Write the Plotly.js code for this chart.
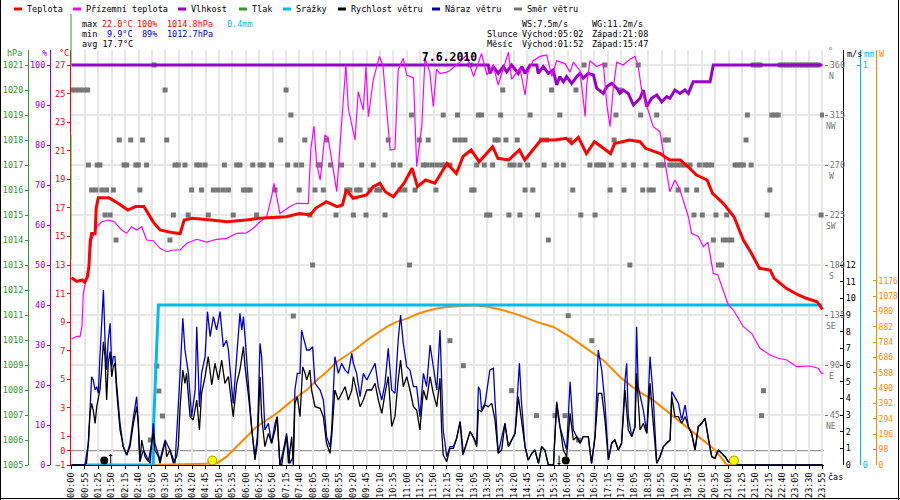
<!DOCTYPE html>
<html><head><meta charset="utf-8">
<script src="https://cdn.plot.ly/plotly-3.0.1.min.js"></script>
<style>html,body{margin:0;padding:0;background:#fff}#chart{width:900px;height:500px}</style>
</head><body><div id="chart"></div>
<script>
// ---- tick labels (one label every 5 samples) ----
const timeLabels = ["00:00","00:55","01:25","01:50","02:15","02:40","03:05","03:30","03:55","04:20","04:45","05:10","05:35","06:00","06:25","06:50","07:15","07:40","08:05","08:30","08:55","09:20","09:45","10:10","10:35","11:00","11:25","11:50","12:15","12:40","13:05","13:30","13:55","14:20","14:45","15:10","15:35","16:00","16:25","16:50","17:15","17:40","18:05","18:30","18:55","19:20","19:45","20:10","20:35","21:00","21:25","21:50","22:15","22:40","23:05","23:30","23:55"];

// ---- series: [sample index, value] ----
const tempPts = [[0,12.1],[2,11.85],[4,11.95],[5,11.8],[6,12.2],[6.5,12.9],[7,14.7],[7.5,15.2],[8.8,15.2],[9.2,17.0],[10,17.7],[14,17.7],[17.5,17.3],[21,16.85],[24,17.1],[27,17.1],[30.5,16.0],[33,15.45],[38,15.25],[40.5,15.2],[42,16.15],[45,16.27],[52,16.15],[58,16.03],[65,16.15],[70,16.27],[80,16.38],[85,16.6],[89,16.5],[91,16.97],[95,17.43],[99,17.08],[101,17.2],[102.5,18.25],[105,17.67],[110,17.9],[112.5,18.48],[115,18.72],[117,18.13],[120,17.78],[124,18.72],[127,19.77],[129,18.48],[132,18.95],[135.5,18.72],[137.5,19.3],[140,20.1],[143.5,19.4],[146,20.6],[149,21.05],[152,20.23],[157,21.28],[159,20.47],[163,20.35],[167,21.05],[169,20.35],[175,21.75],[180,21.75],[184.5,21.87],[186.5,21.5],[189,21.94],[192,20.8],[195,21.63],[201,20.8],[202.5,21.5],[208,21.75],[212,21.63],[214,21.17],[219.5,20.8],[223,20.35],[227,20.35],[230.5,19.77],[233,19.3],[237,18.95],[239,18.02],[243,17.32],[247,16.38],[250.5,14.75],[253.5,13.82],[256.5,12.77],[260.5,12.65],[262,12.07],[266.5,11.37],[271,10.9],[274,10.67],[278,10.43],[280,9.9]];

const feelPts = [[0,7.82],[1.9,8.0],[3.2,8.0],[3.9,8.7],[4.4,11.0],[5.7,12.4],[6.3,12.9],[7.5,14.75],[9.4,15.68],[11.3,16.03],[13.7,16.15],[15.8,16.05],[18.7,15.45],[20.6,15.22],[22.4,15.68],[24.3,15.45],[26.2,15.68],[28,14.75],[30.5,14.7],[33,14.17],[35.5,13.93],[38,14.05],[40.5,14.05],[43,14.52],[46.7,14.8],[50.4,14.6],[54.1,14.8],[57.9,14.87],[61.6,15.22],[65.3,15.25],[67.8,15.57],[70.3,16.03],[72.8,16.38],[74.6,17.78],[75.5,18.72],[76.5,17.78],[77.7,16.6],[81.5,17.1],[84,17.32],[88.3,17.3],[89.2,21.05],[90.4,22.73],[91.4,20.12],[92.7,18.95],[94.5,22.1],[95.7,21.9],[97,20.35],[98.9,18.13],[100.7,22.9],[102.3,27.0],[103.2,23.97],[105.7,21.75],[106.9,25.13],[108.8,23.85],[109.8,26.9],[110.7,23.38],[112.5,25.95],[114.8,27.6],[116.1,27.0],[117.5,24.08],[118.8,21.05],[120.6,21.1],[121.8,26.65],[123.7,27.47],[125,26.3],[127.5,26.1],[128.7,19.9],[130.6,22.7],[131.8,27.47],[133.6,26.5],[134.9,24.1],[136.1,26.7],[137.4,26.4],[139.9,26.5],[141,26.6],[144.2,27.1],[147.3,27.7],[149.9,26.2],[152.9,27.8],[154.9,26.3],[157.2,27.0],[159.1,25.6],[162.9,27.9],[164.1,26.0],[167.2,26.8],[169.1,24.9],[170.2,26.5],[172.1,27.3],[174.7,27.6],[177.2,27.7],[179.1,26.2],[180.9,27.3],[184,27.1],[185.9,26.5],[187.1,27.2],[189.6,26.6],[191.5,23.4],[192.1,25.6],[193.3,27.3],[195.8,26.9],[198.3,27.1],[199.6,24.2],[200.8,22.7],[202,25.4],[203.3,27.2],[205.7,27.0],[208.2,27.4],[210.1,27.6],[211.3,26.9],[212.6,25.25],[214.5,24.08],[216.9,22.68],[219.4,22.33],[221.3,20.12],[223.1,18.13],[225,18.95],[226.9,18.25],[230,16.38],[231.2,15.22],[233.7,15.0],[235.6,14.28],[237.3,14.6],[239.3,12.42],[241,12.3],[243,11.25],[244.9,10.2],[246.8,9.85],[250.5,8.68],[253.6,8.22],[256.7,7.17],[260.5,6.7],[263.5,6.47],[266.7,6.35],[270.4,5.88],[275.3,5.93],[278.4,5.77],[279.7,5.42],[280.3,5.42]];

const humPts = [[0,100],[137.4,100],[155.4,100],[156,97.9],[157.3,99.6],[159.1,97.9],[161,99.6],[162.3,98.3],[164.1,100],[166.6,97.9],[167.9,99.6],[169.1,97.9],[171,100],[173.5,100],[174,97.9],[175.9,99.6],[177.8,97.9],[179.6,98.75],[180.9,95],[182.1,97.1],[183.4,95.8],[184.6,97.1],[186.5,95.4],[188.4,97.1],[189.6,97.9],[190.8,96.7],[192.7,97.9],[194.6,97.5],[195.8,94.2],[198.3,92.9],[199.6,94.6],[201.4,95.4],[203.3,94.2],[204.5,92.9],[205.7,93.75],[207.6,92.9],[209.5,90],[210.7,90.8],[212,91.7],[213.2,93.75],[214.5,89.6],[216.3,91.7],[218.2,92.5],[220.1,90.8],[221.9,92.1],[223.1,91.7],[225,93.75],[226.9,92.9],[228.7,93.75],[230,92.9],[231.8,95.8],[238.1,95.8],[239.3,100],[280,100]];

const windPts = [[0,0],[5,0],[5.6,0.1],[6.3,1.4],[6.9,3.1],[7.5,3.7],[8.1,3.3],[8.8,2.5],[9.4,3.5],[10.6,4.5],[11.3,5.9],[11.9,7.4],[12.5,6.5],[13.1,3.9],[13.7,6.1],[14.4,6.8],[15,5.3],[15.6,5.9],[16.2,6.1],[16.8,4.5],[18.1,2.1],[19.3,1.1],[20.6,0.6],[21.8,1.1],[23.1,2.5],[24.3,3.5],[24.9,2.5],[25.5,0.2],[26.2,1.5],[27.4,0.5],[28.7,0.2],[29.9,1.5],[30.5,1.9],[31.1,0.9],[32.4,0.5],[33,0.1],[33.6,0.5],[34.9,1.4],[35.5,0.5],[36.7,0.9],[38,0.1],[39.2,0.5],[39.8,1.1],[40.5,3.5],[41.5,5.7],[42.3,4.9],[42.9,5.5],[44.2,2.9],[45.4,2.7],[46.7,3.9],[47.7,2.1],[48.5,4.3],[49.8,5.3],[51,6.5],[52.3,4.8],[53.5,6.1],[54.8,5.1],[56,6.3],[57.2,4.9],[58.5,5.3],[59.7,3.7],[60.3,2.9],[61.6,4.9],[62.8,5.7],[64.1,7.1],[64.7,5.9],[65.9,4.3],[67.2,2.1],[68.4,0.3],[69.3,1.3],[70.3,5.3],[70.9,2.9],[72.1,1.1],[73.4,1.9],[74.6,1.3],[75.9,2.1],[76.7,2.9],[77.7,0],[78.4,0],[79,0.7],[80.2,1.7],[80.9,0.1],[82.1,1.7],[82.7,0],[83.3,3.7],[84.2,4.1],[85.2,2.9],[86.2,5.9],[87.1,5.5],[87.7,5.1],[88.9,5.7],[89.5,4.5],[90.8,3.5],[92.7,3.4],[93.9,2.9],[95.1,1.3],[96.4,0.7],[97,1.7],[98.2,4.5],[99.5,3.9],[100.7,4.3],[102,4.7],[103.2,3.9],[104.5,4.5],[105.1,5.3],[106.3,4.5],[107.6,3.5],[108.8,3.9],[110.1,4.5],[111.9,4.5],[113.2,4.9],[114.4,3.9],[115.7,3.1],[116.9,4.3],[118.1,5.3],[119.4,2.3],[120.6,2.9],[121.8,5.1],[122.7,6.3],[123.7,4.7],[125,5.3],[126.2,4.5],[127.5,3.5],[128.7,3.3],[129.9,2.1],[131.2,4.5],[132.4,3.9],[133.7,5.3],[134.9,4.3],[136.2,3.5],[137.4,5.2],[138,2.1],[138.6,0.6],[139.9,0.2],[141.1,1.0],[142.4,1.0],[143.6,1.6],[144.9,2.6],[145.9,0.6],[147.3,1.3],[148.6,2.0],[149.8,1.7],[151.1,1.1],[151.7,3.3],[152.9,3.2],[154.2,3.6],[155.4,3.5],[156.7,3.7],[157.9,2.7],[159.1,0.7],[160.4,0.9],[161.6,2.5],[162.9,1.1],[164.1,1.5],[165.4,1.9],[166.6,4.1],[167.8,2.5],[169.1,1.1],[170.3,0.3],[171.6,0.7],[172.8,0.9],[174.1,0.1],[175.3,1.1],[176.5,0.9],[177.8,0],[179.7,0],[180.9,3.7],[182.1,2.3],[183.4,0.9],[184.6,0.5],[185.9,3.1],[187.1,1.5],[188.4,1.7],[189.6,1.3],[190.8,1.7],[192.7,1.7],[193.9,0.1],[195.2,1.7],[196.4,4.3],[197.7,4.3],[198.9,2.7],[200.2,0.3],[201.4,1.3],[202.6,1.5],[203.9,0.9],[205.1,1.3],[206.4,4.5],[207.6,2.1],[208.9,1.7],[210.1,2.3],[210.7,5.5],[212,2.1],[213.2,2.5],[214.5,1.9],[215.7,4.9],[216.9,2.5],[218.2,0.1],[219.4,0.5],[220.7,1.1],[221.9,1.3],[223.2,1.5],[223.8,4.1],[225,2.9],[226.3,2.9],[227.5,2.5],[228.8,2.9],[230,2.3],[231.2,1.9],[232.5,0.9],[233.7,2.3],[235,2.5],[236.2,2.8],[237.5,1.5],[238.7,0.5],[239.9,0.4],[241.2,0.9],[242.4,0.7],[243.7,0.5],[244.9,0.2],[246.8,0.1],[248.6,0],[280,0]];

const gustPts = [[0,0],[5,0],[6.3,1.3],[6.9,3.9],[7.5,5.3],[8.1,5.1],[8.8,4.5],[9.4,4.7],[10,4.3],[10.6,6.5],[11.3,8.5],[11.9,10.5],[12.5,7.5],[13.1,5.7],[13.7,7.5],[14.4,8.5],[15,5.9],[15.6,6.5],[16.2,6.5],[16.8,4.9],[18.1,2.5],[19.3,1.1],[20.6,0.6],[21.8,1.3],[23.1,2.9],[24.3,4.1],[24.9,2.5],[25.5,0.2],[26.8,0.9],[29.3,0.1],[30.5,2.5],[31.1,1.3],[33,0.3],[34.9,1.5],[36.7,0.9],[38.6,0.1],[40.5,5.5],[41.5,8.8],[42.3,6.9],[43.6,5.5],[44.8,2.9],[46.1,4.5],[46.7,8.3],[47.7,3.5],[48.5,5.5],[49.8,6.5],[50.7,9.2],[51.7,7.7],[52.9,8.9],[54.1,8.1],[55.4,9.2],[56.6,7.1],[57.8,7.5],[58.5,6.9],[59.7,4.7],[60.3,3.7],[61.6,6.5],[62.8,9.1],[63.5,8.1],[64.1,8.9],[64.7,7.7],[65.9,5.1],[67.2,2.1],[68.4,0.5],[69.3,1.7],[70.3,7.3],[70.9,6.5],[72.1,2.1],[73.4,2.5],[74.6,1.3],[75.9,2.5],[76.7,2.9],[77.7,0],[79,0.9],[80.2,1.9],[81.4,0.1],[82.7,0.5],[83.3,4.5],[84.2,5.5],[85.2,5.5],[85.8,8.1],[86.4,7.7],[87.7,6.9],[88.9,6.9],[89.9,7.1],[90.8,4.9],[92.7,4.5],[93.9,3.9],[95.1,1.7],[96.4,1.1],[97,2.1],[98.2,6.5],[99.5,5.5],[100.7,6.1],[102,5.7],[103.2,5.5],[104.5,6.7],[105.1,6.1],[106.3,5.5],[107.6,4.1],[108.8,5.5],[110.1,5.1],[111.9,5.7],[113.2,6.1],[114.4,4.7],[115.7,3.9],[116.9,4.9],[118.1,7.0],[119.4,4.5],[120.6,4.3],[121.8,7.5],[122.7,9.0],[123.7,7.3],[125,5.9],[126.2,5.7],[127.5,4.7],[128.7,4.7],[129.9,2.9],[131.2,5.5],[132.4,4.7],[133.7,7.2],[134.9,5.9],[136.2,4.5],[137.4,8.1],[138,4.9],[138.6,2.1],[139.9,0.5],[141.1,1.1],[142.4,1.1],[143.6,1.6],[144.9,2.6],[146.1,0.7],[148.6,2.0],[151.1,1.3],[151.7,4.7],[152.3,4.5],[152.9,3.3],[154.2,3.7],[156,5.7],[157.3,5.8],[157.9,3.9],[159.1,0.7],[161.6,2.5],[162.9,1.1],[165.4,1.9],[167,6.1],[167.8,3.7],[169.1,1.1],[170.3,0.3],[171.6,0.7],[172.8,0.9],[174.1,0.1],[175.3,1.1],[176.5,0.9],[177.8,0],[179.7,0],[180.9,3.8],[182.1,2.3],[184.6,0.9],[185.9,5.0],[187.1,2.1],[188.4,1.7],[189.6,1.3],[190.8,1.7],[192.7,1.7],[193.9,0.1],[195.2,1.7],[196.4,6.9],[197.7,5.7],[198.9,3.7],[200.2,0.3],[201.4,1.3],[202.6,1.5],[203.9,0.9],[205.1,1.3],[206.4,5.1],[207,6.1],[207.6,2.9],[208.9,1.7],[210.1,2.3],[210.7,8.3],[211.3,4.7],[213.2,3.3],[214.5,1.9],[215.7,6.5],[216.9,4.1],[218.2,0.1],[219.4,0.5],[220.7,1.1],[221.9,1.3],[223.2,1.5],[223.8,4.4],[225,4.1],[226.3,3.7],[227.5,2.7],[228.8,3.6],[230,2.3],[231.2,1.9],[232.5,0.9],[233.7,2.3],[235,2.5],[236.2,2.8],[237.5,1.5],[238.7,0.5],[239.9,0.4],[241.2,0.9],[242.4,0.7],[243.7,0.5],[244.9,0.2],[246.8,0.1],[248.6,0],[280,0]];

const precPts = [[5.7,0],[30.5,0],[30.6,0.1],[31.5,0.25],[32.4,0.4],[280,0.4]];

const solarPts = [[29.3,0],[54.1,10],[57.8,53],[61.6,117],[65.3,180],[69,244],[72.8,287],[76.5,329],[80.2,382],[84,435],[87.7,478],[91.4,541],[95.1,594],[98.9,658],[102.6,700],[106.3,743],[110.1,796],[113.8,839],[117.5,881],[121.2,913],[125,934],[128.7,962],[132.4,983],[136.2,998],[139.9,1008],[144.9,1015],[149.8,1019],[155.4,1010],[161,987],[167.2,955],[173.4,913],[179.7,881],[185.9,817],[192.1,743],[198.3,669],[204.5,562],[210.7,478],[216.9,414],[223.2,329],[229.4,244],[235.6,159],[239.3,106],[243,32],[244.3,0],[246,0]];

// wind direction (sample indices per direction row, degrees)
const dirN   = [30.8,148.6,191.1,198.9,211.3,254.2,255.5,256.7,264.2,265.4,266.6,267.8,269,270.2,271.4,272.6,273.8,275,276.2,277.4,278.4];
const dirNNW = [0,1.5,3,4.5,6,34.9,80,160.8,179,188.1,204.5];
const dirNW  = [81.8,126.8,138.6,143.9,151.7,152.9,160,171,182.1,203,212.2,218.2,252,261.1,262.3,263.5,280];
const dirWNW = [17.8,22.1,26.5,35.5,78,87,95.1,118.1,129.7,133,143,144.9,146.7,157.9,159.1,162,166.2,175.3,177.2,185.9,202.3,221.3,222.5,251.5];
const dirW   = [6.3,9.6,10.6,19.6,20.6,24,24.9,28,38.6,39.8,42.3,46.7,47.9,49.8,57,61.6,62.8,67.6,70.3,71.5,74.6,80.6,83.7,85.8,92,92.7,96.6,100.7,108.2,112.5,120,122.5,131.2,132.4,134.3,136.2,138,139.3,141.1,151.1,153.9,157,163.5,165,167.2,170.1,176.2,180.9,183.4,193.3,195.8,197,198.3,201.2,206,209.5,214.2,218.8,219.8,220.7,223.1,224.5,226,227.4,228.7,230.6,234.1,236.2,237.4,238.7,247.4,248.4,249.5,250.5,253.4];
const dirWSW = [7.5,9.1,11.3,13.1,15.6,25.5,44.8,48.5,52.9,54.7,56.6,58.5,64.1,65.3,66.6,75.9,84.9,90.8,93.9,102.6,103.8,106.3,107.6,111.3,113.8,115,122.5,124.3,128.1,135.9,149.2,150.1,169.1,172,186.9,200.8,206,213,215.4,216.9,226.2,229.4,233.1,260.4];
const dirSW  = [12.5,14.4,38,43.5,51,60.3,69,88.9,98.6,105.1,109.8,116.9,154.8,156,163.1,167.2,173.8,189.9,195.2,232.1,235.2,240.3,244.3,259.4,279.5];
const dirSSW = [16.6,36.7,177.8,239.3,243,244.6,246.2];
const dirS   = [89.9,126,208.2,241.2,242.4];
const dirOtherIdx = [82.7,141.1,31.8,32.6,33.9,29.4,146.1,185.2,194,164.1,173.4,180.3,184,189,258,257.3];
const dirOtherDeg = [134.1,111.9,89.1,66.6,44.1,22.5,89.4,134.4,111.9,66.9,44.4,44.4,44.4,22.5,66.9,44.4];

// sun / moon events (sample index)
const sunIdx = [52.5, 247];
const moonIdx = [12.2, 184.3];

// axis tick values
const tempTicks = [-1,0,1,3,5,7,9,11,13,15,17,19,21,23,25,27];
const humTicks = [0,10,20,30,40,50,60,70,80,90,100];
const presTicks = [1005,1006,1007,1008,1009,1010,1011,1012,1013,1014,1015,1016,1017,1018,1019,1020,1021];
const dirTicks = [45,90,135,180,225,270,315,360];
const dirNames = ["NE","E","SE","S","SW","W","NW","N"];
const windTicks = [0,1,2,3,4,5,6,7,8,9,10,11,12];
const rainTicks = [0,1];
const solarTicks = [0,98,196,294,392,490,588,686,784,882,980,1078,1176];

// ---- styling ----
const FONT = '"DejaVu Sans Mono", monospace';
const FS = 8.5;
const C = {red:'#ff0000', mag:'#ff00ff', pur:'#9900cc', grn:'#339933', cyan:'#00bbee', blk:'#000000', blue:'#0000cc', grey:'#777777', org:'#ff8800'};
const K = 2.682; // px per sample
const px = x => x/900;
const py = y => (465-y)/415;

const xs = a => a.map(p=>p[0]);
const ys = a => a.map(p=>p[1]);

const dirRows = [[dirN,360],[dirNNW,337.5],[dirNW,315],[dirWNW,292.5],[dirW,270],[dirWSW,247.5],[dirSW,225],[dirSSW,202.5],[dirS,180]];
let dX=[], dY=[];
dirRows.forEach(([arr,deg])=>arr.forEach(s=>{dX.push(s);dY.push(deg);}));
dirOtherIdx.forEach((s,i)=>{dX.push(s);dY.push(dirOtherDeg[i]);});

const traces = [
  {x:dX, y:dY, yaxis:'y', mode:'markers', marker:{symbol:'square', size:5, color:C.grey}, name:'Směr větru', hoverinfo:'skip'},
  {x:xs(humPts), y:ys(humPts), yaxis:'y2', mode:'lines', line:{color:C.pur, width:3}, name:'Vlhkost'},
  {x:[], y:[], yaxis:'y3', mode:'lines', line:{color:C.grn, width:2}, name:'Tlak'},
  {x:xs(solarPts), y:ys(solarPts), yaxis:'y4', mode:'lines', line:{color:C.org, width:2}, name:'Sluneční záření'},
  {x:xs(precPts), y:ys(precPts), yaxis:'y5', mode:'lines', line:{color:C.cyan, width:3}, name:'Srážky'},
  {x:xs(gustPts), y:ys(gustPts), yaxis:'y6', mode:'lines', line:{color:C.blue, width:1.3}, name:'Náraz větru'},
  {x:xs(windPts), y:ys(windPts), yaxis:'y6', mode:'lines', line:{color:C.blk, width:1.3}, name:'Rychlost větru'},
  {x:sunIdx, y:[0.27,0.27], yaxis:'y6', mode:'markers', marker:{size:9, color:'#ffff00', line:{color:'#999900', width:1}}, name:'Slunce'},
  {x:moonIdx, y:[0.27,0.27], yaxis:'y6', mode:'markers', marker:{size:8, color:'#000'}, name:'Měsíc'},
  {x:xs(feelPts), y:ys(feelPts), yaxis:'y7', mode:'lines', line:{color:C.mag, width:1.2}, name:'Přízemní teplota'},
  {x:xs(tempPts), y:ys(tempPts), yaxis:'y7', mode:'lines', line:{color:C.red, width:3}, name:'Teplota'}
];

function yax(o){
  return Object.assign({
    showgrid:false, zeroline:false, automargin:false, fixedrange:true,
    ticks:'outside', ticklen:3, tickmode:'array',
    tickfont:{family:FONT, size:FS}
  }, o);
}

const layout = {
  width:900, height:500,
  margin:{l:0, r:0, t:50, b:35, pad:0},
  paper_bgcolor:'#fff', plot_bgcolor:'#fff',
  showlegend:false,
  font:{family:FONT, size:FS, color:'#000'},
  title:{text:'<b>7.6.2010</b>', x:449.5/900, xanchor:'center', y:1-57/500, yanchor:'middle', font:{family:FONT, size:11.5, color:'#000'}},
  xaxis:{domain:[71/900, 824/900], range:[(71-71.5)/K, (824-71.5)/K], tickmode:'array',
    tickvals:timeLabels.map((t,i)=>i*5), ticktext:timeLabels, tickangle:-90,
    ticks:'outside', ticklen:3, tickcolor:'#000', tickfont:{family:FONT, size:FS, color:'#000'},
    showgrid:true, gridcolor:'#e8e8e8', gridwidth:2, showline:true, linecolor:'#000', linewidth:1,
    zeroline:false, automargin:false, fixedrange:true, layer:'below traces'},
  yaxis: yax({range:[0,373.5], side:'right', anchor:'x', tickvals:dirTicks, ticktext:dirTicks.map(String),
    tickcolor:C.grey, tickfont:{family:FONT, size:FS, color:C.grey}, showgrid:true, gridcolor:'#e8e8e8', gridwidth:2, showline:false}),
  yaxis2: yax({overlaying:'y', anchor:'free', position:50/900, side:'left', range:[0,103.75], tickvals:humTicks,
    tickcolor:C.pur, tickfont:{family:FONT, size:FS, color:C.pur}, showline:true, linecolor:C.pur, linewidth:1}),
  yaxis3: yax({overlaying:'y', anchor:'free', position:28/900, side:'left', range:[1005,1021.6], tickvals:presTicks,
    tickcolor:C.grn, tickfont:{family:FONT, size:FS, color:C.grn}, showline:true, linecolor:C.grn, linewidth:1}),
  yaxis4: yax({overlaying:'y', anchor:'free', position:876/900, side:'right', range:[0,2648], tickvals:solarTicks,
    ticks:'inside', ticklen:3, tickcolor:C.org, tickfont:{family:FONT, size:8, color:C.org}, showline:true, linecolor:C.org, linewidth:1}),
  yaxis5: yax({overlaying:'y', anchor:'free', position:860/900, side:'right', range:[0,1.0375], tickvals:rainTicks,
    ticks:'inside', ticklen:3, tickcolor:C.cyan, tickfont:{family:FONT, size:FS, color:C.cyan}, showline:true, linecolor:C.cyan, linewidth:1}),
  yaxis6: yax({overlaying:'y', anchor:'free', position:843/900, side:'right', range:[0,24.9], tickvals:windTicks,
    ticks:'inside', ticklen:3, tickcolor:C.blk, tickfont:{family:FONT, size:FS, color:C.blk}, showline:true, linecolor:C.blk, linewidth:1}),
  yaxis7: yax({overlaying:'y', anchor:'x', side:'left', range:[-1,28.05], tickvals:tempTicks,
    tickcolor:C.red, tickfont:{family:FONT, size:FS, color:C.red}, showline:true, linecolor:C.red, linewidth:1}),
  shapes:[], annotations:[]
};

const S = layout.shapes, A = layout.annotations;
function txt(t, x, y, color, extra){
  A.push(Object.assign({text:t, xref:'paper', yref:'paper', x:px(x), y:py(y), xanchor:'left', yanchor:'middle',
    showarrow:false, font:{family:FONT, size:FS, color:color||'#000'}}, extra||{}));
}
function seg(x0,y0,x1,y1,color,w){
  S.push({type:'line', xref:'paper', yref:'paper', x0:px(x0), y0:py(y0), x1:px(x1), y1:py(y1), line:{color:color, width:w||1}});
}

// 0 °C reference line
S.push({type:'line', xref:'paper', yref:'y7', x0:px(71), x1:px(824), y0:0, y1:0, line:{color:'#808080', width:1}, layer:'between'});
// green parts of the left border
seg(71,14,71,65,C.grn,1); seg(71,135,71,260,C.grn,1);
// frame
seg(0.5,0,0.5,500,'#000',1); seg(898.5,0,898.5,500,'#000',1); seg(0,498.5,900,498.5,'#000',1);

// legend
const legendItems = [["Teplota",C.red,25],["Přízemní teplota",C.mag,84],["Vlhkost",C.pur,189],["Tlak",C.grn,250],
  ["Srážky",C.cyan,294],["Rychlost větru",C.blk,349],["Náraz větru",C.blue,443],["Směr větru",C.grey,525]];
legendItems.forEach(([t,c,x])=>{ seg(x-11,9,x-3,9,c,3); txt(t,x,9,'#000'); });

// statistics
txt('max',80,24); txt('22.0°C',100,24,C.red); txt('100%',135,24,C.red); txt('1014.8hPa',165,24,C.red); txt('0.4mm',225,24,C.cyan);
txt('min',80,34); txt('9.9°C',105,34,C.blue); txt('89%',140,34,C.blue); txt('1012.7hPa',165,34,C.blue);
txt('avg 17.7°C',80,44);
txt('WS:7.5m/s',520,24); txt('WG:11.2m/s',590,24);
txt('Slunce',485,34); txt('Východ:05:02',520,34); txt('Západ:21:08',590,34);
txt('Měsíc',485,44); txt('Východ:01:52',520,44); txt('Západ:15:47',590,44);

// axis titles
txt('hPa',5,53,C.grn); txt('%',40,53,C.pur); txt('°C',57,53,C.red);
txt('°',826,51,C.grey); txt('m/s',845,54,C.blk); txt('mm',862,54,C.cyan); txt('W',877,54,C.org);
txt('čas',826,477,C.blk);

// compass names under direction ticks
dirTicks.forEach((d,i)=>{
  A.push({text:dirNames[i], xref:'paper', yref:'y', x:px(831), y:d-10.5, xanchor:'center', yanchor:'middle',
    showarrow:false, font:{family:FONT, size:8, color:C.grey}});
});

// moon rise / set arrows
A.push({text:'', xref:'x', yref:'paper', x:14.6, y:py(454), ax:0, ay:11, showarrow:true, arrowhead:1, arrowsize:0.7, arrowwidth:1, arrowcolor:'#000'});
A.push({text:'', xref:'x', yref:'paper', x:181.8, y:py(465), ax:0, ay:-11, showarrow:true, arrowhead:1, arrowsize:0.7, arrowwidth:1, arrowcolor:'#000'});

Plotly.newPlot('chart', traces, layout, {staticPlot:true, displayModeBar:false});
</script></body></html>
